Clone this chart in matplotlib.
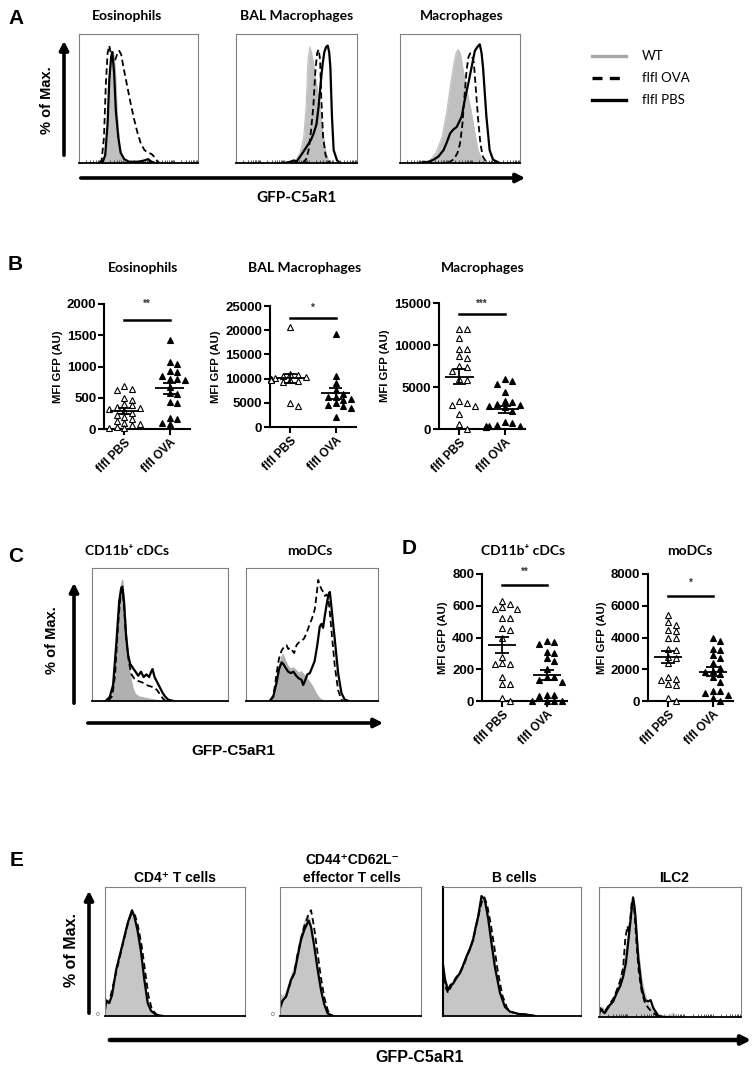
import numpy as np
import matplotlib
matplotlib.use("Agg")
import matplotlib.pyplot as plt
from matplotlib.patches import FancyArrowPatch
from matplotlib.lines import Line2D

# ---------------- histogram curves (x = channel %, y = % of max) ----------------
# panel A, eosinophils
a_eos_wt_x = [19, 22, 24, 26, 27.5, 29, 30.5, 32, 34, 36, 39, 43]
a_eos_wt_y = [0, 5, 25, 60, 82, 86, 74, 42, 15, 4, 1, 0]
a_eos_ova_x = [17, 19, 21, 22.5, 24, 25.4, 27, 28.5, 30, 32, 33.8, 35.5, 37, 40, 43, 46, 49, 52, 55, 58, 61, 64, 66, 68]
a_eos_ova_y = [0, 2, 20, 60, 85, 91, 84, 78, 79, 84, 87, 84, 76, 62, 48, 35, 24, 15, 10, 8, 7, 4, 1, 0]
a_eos_pbs_x = [18, 20, 22, 24, 25.5, 27, 28, 29.5, 31, 33, 35, 38, 42, 50, 55, 58, 61, 64]
a_eos_pbs_y = [0, 1, 6, 30, 65, 82, 86, 70, 40, 20, 8, 3, 1, 1, 2, 3, 1, 0]
# panel A, BAL macrophages
a_bal_wt_x = [45, 50, 53, 56, 58, 59.5, 61, 62.5, 64, 66, 68, 70, 72, 74, 76, 78]
a_bal_wt_y = [0, 3, 8, 20, 45, 80, 90, 85, 78, 65, 52, 38, 22, 10, 3, 0]
a_bal_ova_x = [55, 58, 60, 62, 64, 65.5, 67, 68.3, 69.5, 70.5, 72, 74, 76, 78]
a_bal_ova_y = [0, 3, 10, 25, 45, 70, 85, 88, 80, 50, 20, 6, 2, 0]
a_bal_pbs_x = [40, 45, 47.7, 50, 53, 58.7, 62, 64.2, 66.5, 68.3, 70, 71.5, 73, 74.5, 75.8, 77, 78, 79.3, 80.7, 83.5, 86.2]
a_bal_pbs_y = [0, 1, 2, 1, 5, 13, 18, 23, 30, 44, 62, 76, 86, 90, 91, 86, 74, 36, 10, 2, 0]
# panel A, macrophages
a_mac_wt_x = [20, 25, 30, 35, 39, 42, 45, 47, 48.6, 50.5, 53, 56, 59, 62, 65, 68, 72]
a_mac_wt_y = [0, 2, 8, 20, 40, 60, 78, 86, 88, 84, 70, 55, 42, 25, 10, 3, 0]
a_mac_ova_x = [40, 45, 48, 50, 52, 54, 55.5, 57, 58.5, 60, 61.5, 63, 65, 67, 69, 71, 73]
a_mac_ova_y = [0, 3, 8, 15, 30, 55, 72, 82, 85, 83, 78, 60, 35, 15, 5, 2, 0]
a_mac_pbs_x = [15, 19.8, 24, 28, 32, 36.3, 39, 41.8, 44.5, 47.3, 51.4, 54, 56.9, 59.6, 62.4, 64.5, 66.5, 68, 69.2, 72, 74.7, 77.5, 83]
a_mac_pbs_y = [0, 0.5, 1, 2.6, 5, 10, 16, 23, 26, 28, 36, 49, 61.5, 74, 87, 90, 92, 85, 74, 36, 10, 2.6, 0]

# panel C, CD11b+ cDCs
c_cdc_wt_x = [12, 15, 17, 19, 21, 22.5, 24, 26, 28, 30, 32, 35, 40, 45, 50]
c_cdc_wt_y = [0, 5, 25, 60, 85, 91, 75, 40, 20, 10, 5, 3, 2, 1, 0]
c_cdc_ova_x = [12, 15, 17, 19, 21, 22.3, 23.5, 25, 27, 29, 31, 34, 37, 40, 43, 46, 48, 50, 52, 54]
c_cdc_ova_y = [0, 4, 20, 55, 80, 84, 72, 48, 30, 20, 17, 15, 14, 12, 11, 10, 8, 5, 2, 0]
c_cdc_pbs_x = [10, 13, 15.5, 18, 20, 21.5, 22.3, 23.5, 25, 26.5, 28, 30, 32, 34, 36, 38, 40, 42, 43.5, 44.5, 46, 48, 50, 52, 54, 56, 58, 60]
c_cdc_pbs_y = [0, 3, 12, 45, 75, 85, 86, 75, 50, 35, 28, 25, 22, 19, 22, 18, 20, 18, 22, 24, 18, 14, 10, 6, 3, 1, 0.5, 0]
# panel C, moDCs
c_mo_wt_x = [19, 21, 23, 25, 27, 28.2, 30, 32, 34, 36, 38, 40, 42, 44, 46, 48.5, 51, 53, 55, 57, 60]
c_mo_wt_y = [0, 3, 12, 25, 33, 35, 30, 26, 24, 25, 23, 21, 22, 20, 17, 14, 10, 6, 3, 1, 0]
c_mo_ova_x = [18, 20.6, 22, 23.2, 25, 27, 29, 30.7, 32, 33.2, 35, 36.5, 38.3, 40, 42, 44, 45.8, 48, 49.6, 51, 52.1, 53.5,
              54.7, 56, 57.2, 58.5, 59.7, 61, 62.2, 63.2, 64.2, 65.5, 67.3, 69.8, 72.3, 74]
c_mo_ova_y = [0, 4, 12, 21, 32, 38, 41, 42, 39, 40, 38, 36, 42, 44, 45, 47, 51, 57, 61, 65, 69, 80,
              91, 87, 84, 82, 79, 80, 78, 70, 59, 45, 26, 8, 1, 0]
c_mo_pbs_x = [18, 20.6, 23.2, 25, 27, 28.2, 30, 32, 34, 36, 38, 40, 42, 43.3, 45, 46.5, 48.4, 50, 52, 54, 55.9, 57.2,
              58.4, 59.7, 61, 62.5, 63.5, 64.7, 66, 67.3, 69.8, 72.3, 74.8, 78]
c_mo_pbs_y = [0, 3, 14, 24, 29, 28, 25, 22, 21, 22, 19, 17, 16, 12, 16, 20, 21, 25, 30, 42, 56, 58,
              55, 64, 72, 80, 82, 71, 58, 46, 21, 6, 1, 0]

# panel E
e_cd4_wt_x = [0, 3, 5, 8, 12.6, 16.2, 18.6, 20.5, 23.3, 25.7, 28.1, 30.5, 32.9, 36.4, 41]
e_cd4_wt_y = [15, 10, 14, 36, 56, 72, 80, 78, 68, 52, 30, 12, 4, 1, 0]
e_cd4_ova_x = [0, 3, 8, 12.6, 16.2, 19, 21.5, 23.5, 26, 28.5, 31, 33.5, 37, 42]
e_cd4_ova_y = [10, 11, 34, 55, 71, 80, 78, 70, 56, 36, 16, 5, 1, 0]
e_cd4_pbs_x = [0, 1, 3, 5, 8, 12.6, 16.2, 19.3, 21, 23.3, 25.7, 28.1, 30.5, 32.9, 36.4, 41]
e_cd4_pbs_y = [5, 12, 10, 16, 36, 56, 72, 82, 77, 66, 50, 28, 10, 4, 1, 0]

e_eff_wt_x = [0, 2, 4.3, 7.8, 10.2, 12.5, 14.9, 17.3, 19.5, 21.5, 23.5, 26, 28.5, 31, 33.5, 37]
e_eff_wt_y = [18, 15, 18, 30, 38, 50, 62, 72, 78, 74, 62, 42, 24, 10, 3, 0]
e_eff_ova_x = [0, 2, 4.3, 7.8, 10.2, 12.5, 14.9, 17.3, 20, 22, 24, 26.5, 29, 31.5, 34, 37.5]
e_eff_ova_y = [8, 12, 15, 27, 34, 48, 60, 70, 78, 82, 70, 50, 30, 14, 4, 0]
e_eff_pbs_x = [0, 1.9, 4.3, 7.8, 10.2, 12.5, 14.9, 17.3, 20.3, 22, 24.3, 26.7, 29.1, 31.4, 33.8, 37.4]
e_eff_pbs_y = [6, 12, 15, 28, 33, 46, 59, 67, 74, 69, 54, 36, 20, 9, 2, 0]

e_b_wt_x = [0, 2, 3.6, 5.5, 7.3, 9.5, 12.1, 14.5, 17, 19.5, 21.8, 23.5, 25.5, 27.5, 29.5, 31, 33, 35.5, 38, 41, 44, 48, 52]
e_b_wt_y = [35, 28, 22, 25, 27, 30, 34, 40, 47, 54, 62, 70, 80, 88, 91, 88, 76, 58, 40, 20, 8, 3, 0]
e_b_ova_x = [0, 2, 3.6, 5.5, 7.3, 9.5, 12.1, 14.5, 17, 19.5, 21.8, 23.5, 25.5, 28, 30, 32, 34.5, 37, 39.5, 43, 46.5, 50, 55, 62, 67]
e_b_ova_y = [30, 22, 18, 22, 26, 30, 33, 38, 45, 52, 59, 67, 77, 88, 92, 86, 72, 55, 36, 16, 6, 3, 1.6, 1, 0]
e_b_pbs_x = [0, 1.5, 3.6, 5.5, 7.3, 9.5, 12.1, 14.5, 17, 19.5, 21.8, 23.5, 25.5, 27.9, 30.3, 32.8, 35.2, 37.6, 41.3, 44.9, 48.5, 54.6, 60, 66.7]
e_b_pbs_y = [40, 28, 20, 24, 25, 29, 33, 39, 46, 52, 59, 68, 77, 93, 90, 75, 56, 38, 18, 7, 3.4, 1.6, 1.2, 0]

e_ilc_wt_x = [0, 2, 4, 7.5, 10, 12.3, 15, 17, 19, 20.5, 22, 23, 24, 25.5, 27, 28.5, 30, 32, 34, 36, 38, 41, 45, 48, 50, 52.4, 54, 57]
e_ilc_wt_y = [5, 8, 5, 10, 14, 20, 30, 38, 50, 62, 75, 85, 90, 80, 60, 45, 30, 20, 12, 8, 5, 2, 1, 0.5, 1, 3, 1, 0]
e_ilc_ova_x = [0, 2, 4, 7.5, 10, 12.3, 15, 17, 18.5, 20, 21, 22, 23, 24, 25, 26.5, 28, 30, 32, 34, 37, 41, 45]
e_ilc_ova_y = [3, 6, 4, 10, 14, 20, 28, 38, 60, 70, 65, 75, 88, 91, 80, 55, 35, 20, 12, 8, 4, 1, 0]
e_ilc_pbs_x = [0, 0.5, 2, 4, 7.5, 10, 12.3, 15, 17, 19, 20.5, 22, 22.9, 24, 25, 25.7, 27.6, 30, 32.3, 34.7, 36.3, 38.2, 41.7, 45.3, 50]
e_ilc_pbs_y = [0, 7, 5, 3, 9, 12, 18, 24, 31, 42, 57, 72, 82, 92, 85, 77, 46, 23, 13, 12, 13, 7, 1, 0, 0]

# ---------------- MFI scatter data (AU) ----------------
groups = ["flfl PBS", "flfl OVA"]
eos_pbs = [690, 640, 630, 470, 500, 400, 360, 380, 340, 320, 290, 260, 230, 200, 160, 130, 100, 80, 60, 40, 20, 10]
eos_ova = [1424, 1077, 1040, 917, 933, 848, 795, 795, 784, 677, 571, 560, 437, 411, 155, 171, 91, 80]
bal_pbs = [20600, 11000, 10800, 10500, 10300, 10100, 10000, 9900, 9800, 9700, 9500, 9300, 5000, 4300]
bal_ova = [19300, 10500, 9100, 7600, 6900, 6300, 6200, 5800, 5500, 5000, 4500, 4300, 4000, 2000]
mac_pbs = [11900, 11900, 10800, 9500, 9500, 8700, 8500, 7500, 7400, 6900, 6000, 5800, 3300, 3100, 2800, 2700, 1800, 600, 0]
mac_ova = [5900, 5700, 5400, 4400, 3300, 3200, 3000, 2800, 2700, 2600, 2100, 800, 700, 500, 300, 300, 300, 200, 200]
cdc_pbs = [630, 610, 590, 580, 580, 520, 520, 460, 450, 400, 280, 240, 230, 230, 150, 110, 110, 20, 0]
cdc_ova = [380, 370, 360, 310, 300, 270, 250, 200, 150, 150, 130, 120, 40, 40, 30, 0, 0, 0, 0]
mo_pbs = [5400, 5000, 4800, 4500, 4400, 4000, 4000, 3300, 3200, 2800, 2700, 2400, 1500, 1400, 1300, 1100, 1000, 200, 0]
mo_ova = [4000, 3800, 3300, 3200, 2900, 2700, 2400, 2100, 1900, 1800, 1700, 1500, 1200, 600, 600, 500, 400, 200, 0]

W, H = 754, 1065
CAL = ["Lato", "DejaVu Sans"]
ARI = ["Liberation Sans", "DejaVu Sans"]

fig = plt.figure(figsize=(W / 100, H / 100), dpi=100)


def px_axes(x0, y0, x1, y1):
    return fig.add_axes([x0 / W, 1 - y1 / H, (x1 - x0) / W, (y1 - y0) / H])


def ftext(x, y, s, **kw):
    fig.text(x / W, 1 - y / H, s, **kw)


def farrow(x0, y0, x1, y1, lw=2.5):
    fig.add_artist(FancyArrowPatch((x0 / W, 1 - y0 / H), (x1 / W, 1 - y1 / H),
                                   transform=fig.transFigure, arrowstyle="-|>",
                                   mutation_scale=13, lw=lw, color="k"))


def hist(box, wt, ova, pbs, gray, log_ticks=False, dark_left=False):
    ax = px_axes(*box)
    ax.fill_between(wt[0], wt[1], color=gray, lw=0)
    ax.plot(wt[0], wt[1], color=gray, lw=0.8)
    ax.plot(ova[0], ova[1], color="k", lw=1.3, ls=(0, (3.5, 2)))
    ax.plot(pbs[0], pbs[1], color="k", lw=1.6)
    ax.set_xlim(0, 100)
    ax.set_ylim(0, 100)
    ax.set_yticks([])
    if log_ticks:
        dec = np.arange(0, 101, 20)
        minor = [d + 20 * np.log10(k) for d in dec[:-1] for k in range(2, 10)]
        ax.set_xticks(dec)
        ax.set_xticks(minor, minor=True)
        ax.tick_params(axis="x", which="both", direction="in", length=2, width=0.6,
                       labelbottom=False, colors="#333333")
    else:
        ax.set_xticks([])
    for s in ax.spines.values():
        s.set_color("#808080")
        s.set_linewidth(0.8)
    ax.spines["bottom"].set_color("k")
    ax.spines["bottom"].set_linewidth(1.3)
    if dark_left:
        ax.spines["left"].set_color("k")
        ax.spines["left"].set_linewidth(1.5)
    return ax


def swarm(vals, ymax, hpx, wpx, xspan=1.9, d=3.8):
    vals = np.asarray(vals, dtype=float)
    ux = wpx / xspan
    order = np.argsort(-vals, kind="stable")
    placed = []
    off = np.zeros(len(vals))
    cands = [0, 1, -1, 2, -2, 3, -3, 4, -4, 5, -5]
    for i in order:
        py = vals[i] / ymax * hpx
        for k in cands:
            px = k * d
            if all(abs(px - qx) >= 6.5 or abs(py - qy) >= 5.4 for qx, qy in placed):
                break
        placed.append((px, py))
        off[i] = px / ux
    return off


def column_scatter(box, pbs, ova, ymax, step, sig_y, star_y, stars):
    ax = px_axes(*box)
    wpx, hpx = box[2] - box[0], box[3] - box[1]
    for i, vals, face in [(0, pbs, "white"), (1, ova, "black")]:
        xs = i + swarm(vals, ymax, hpx, wpx)
        ax.plot(xs, vals, ls="none", marker="^", ms=4.8, mfc=face, mec="k", mew=0.8, clip_on=False, zorder=3)
        m = np.mean(vals)
        sem = np.std(vals, ddof=1) / np.sqrt(len(vals))
        ax.hlines(m, i - 0.32, i + 0.32, color="k", lw=1.3, zorder=4)
        ax.hlines([m - sem, m + sem], i - 0.15, i + 0.15, color="k", lw=1.3, zorder=4)
        ax.vlines(i, m - sem, m + sem, color="k", lw=1.3, zorder=4)
    ax.plot([0, 1], [sig_y, sig_y], color="k", lw=1.8, clip_on=False)
    ax.text(0.5, star_y, stars, ha="center", va="center", fontsize=7, fontweight="bold",
            color="#333333", family=ARI, clip_on=False)
    ax.set_xlim(-0.45, 1.45)
    ax.set_ylim(0, ymax)
    ax.set_yticks(np.arange(0, ymax + 1, step))
    ax.set_xticks([0, 1])
    ax.set_xticklabels(groups, rotation=45, ha="right", va="top", rotation_mode="anchor",
                       fontweight="bold", fontsize=8.5, family=ARI)
    for lab in ax.get_yticklabels():
        lab.set_fontweight("bold")
        lab.set_family(ARI)
        lab.set_fontsize(9.5)
    ax.spines["top"].set_visible(False)
    ax.spines["right"].set_visible(False)
    ax.spines["left"].set_linewidth(1.5)
    ax.spines["bottom"].set_linewidth(1.5)
    ax.tick_params(width=1.5, length=4, pad=1.5)
    ax.set_ylabel("MFI GFP (AU)", fontweight="bold", fontsize=8.2, family=ARI, labelpad=3)
    return ax


# ---------------- panel A ----------------
ftext(8, 18, "A", fontsize=15, fontweight="bold", family=ARI, va="center")
for x, t in [(127, "Eosinophils"), (297, "BAL Macrophages"), (462, "Macrophages")]:
    ftext(x, 16, t, fontsize=10, fontweight="bold", family=CAL, ha="center", va="center")
gA = "#c0c0c0"
hist((79, 34, 198, 163), (a_eos_wt_x, a_eos_wt_y), (a_eos_ova_x, a_eos_ova_y), (a_eos_pbs_x, a_eos_pbs_y), gA, True)
hist((236, 34, 357, 163), (a_bal_wt_x, a_bal_wt_y), (a_bal_ova_x, a_bal_ova_y), (a_bal_pbs_x, a_bal_pbs_y), gA, True)
hist((400, 34, 520, 163), (a_mac_wt_x, a_mac_wt_y), (a_mac_ova_x, a_mac_ova_y), (a_mac_pbs_x, a_mac_pbs_y), gA, True)
farrow(64, 158, 64, 38, lw=2.6)
farrow(78, 178, 528, 178, lw=2.6)
ftext(47, 100, "% of Max.", fontsize=10.5, fontweight="bold", family=ARI, rotation=90, ha="center", va="center")
ftext(297, 198, "GFP-C5aR1", fontsize=11, fontweight="bold", family=CAL, ha="center", va="center")

# legend
leg = [("WT", "#a6a6a6", "-"), ("flfl OVA", "k", (0, (3, 2.2))), ("flfl PBS", "k", "-")]
for j, (lab, col, ls) in enumerate(leg):
    yy = 1 - (56 + 22 * j) / H
    fig.add_artist(Line2D([592 / W, 626 / W], [yy, yy], color=col, ls=ls, lw=2.4, transform=fig.transFigure))
    ftext(642, 56 + 22 * j, lab, fontsize=9.5, family=CAL, va="center")

# ---------------- panel B ----------------
ftext(8, 264, "B", fontsize=15, fontweight="bold", family=ARI, va="center")
for x, t in [(143, "Eosinophils"), (305, "BAL Macrophages"), (483, "Macrophages")]:
    ftext(x, 268, t, fontsize=10, fontweight="bold", family=CAL, ha="center", va="center")
column_scatter((104, 304, 190, 429), eos_pbs, eos_ova, 2000, 500, 1744, 2010, "**")
column_scatter((270, 306, 356, 427), bal_pbs, bal_ova, 25000, 5000, 22600, 24600, "*")
column_scatter((439, 303, 525, 429), mac_pbs, mac_ova, 15000, 5000, 13690, 14900, "***")

# ---------------- panel C ----------------
ftext(8, 556, "C", fontsize=15, fontweight="bold", family=ARI, va="center")
ftext(127, 551, "CD11b\u207a cDCs", fontsize=10, fontweight="bold", family=CAL, ha="center", va="center")
ftext(310, 551, "moDCs", fontsize=10, fontweight="bold", family=CAL, ha="center", va="center")
gC = "#b0b0b0"
hist((92, 568, 228, 701), (c_cdc_wt_x, c_cdc_wt_y), (c_cdc_ova_x, c_cdc_ova_y), (c_cdc_pbs_x, c_cdc_pbs_y), gC)
hist((246, 568, 378, 701), (c_mo_wt_x, c_mo_wt_y), (c_mo_ova_x, c_mo_ova_y), (c_mo_pbs_x, c_mo_pbs_y), gC)
farrow(74, 706, 74, 580, lw=2.6)
farrow(85, 723, 386, 723, lw=2.6)
ftext(52, 640, "% of Max.", fontsize=10.5, fontweight="bold", family=ARI, rotation=90, ha="center", va="center")
ftext(233, 751, "GFP-C5aR1", fontsize=11, fontweight="bold", family=ARI, ha="center", va="center")

# ---------------- panel D ----------------
ftext(402, 548, "D", fontsize=15, fontweight="bold", family=ARI, va="center")
ftext(523, 551, "CD11b\u207a cDCs", fontsize=10, fontweight="bold", family=CAL, ha="center", va="center")
ftext(690, 551, "moDCs", fontsize=10, fontweight="bold", family=CAL, ha="center", va="center")
column_scatter((482, 574, 567, 701), cdc_pbs, cdc_ova, 800, 200, 730, 812, "**")
column_scatter((648, 574, 733, 701), mo_pbs, mo_ova, 8000, 2000, 6600, 7450, "*")

# ---------------- panel E ----------------
ftext(10, 861, "E", fontsize=15, fontweight="bold", family=ARI, va="center")
ftext(175, 878, "CD4\u207a T cells", fontsize=10, fontweight="bold", family=ARI, ha="center", va="center")
ftext(352, 860, "CD44\u207aCD62L\u207b", fontsize=10, fontweight="bold", family=ARI, ha="center", va="center")
ftext(352, 878, "effector T cells", fontsize=10, fontweight="bold", family=ARI, ha="center", va="center")
ftext(514, 878, "B cells", fontsize=10, fontweight="bold", family=ARI, ha="center", va="center")
ftext(674, 878, "ILC2", fontsize=10, fontweight="bold", family=ARI, ha="center", va="center")
gE = "#c6c6c6"
hist((105, 887, 245, 1016), (e_cd4_wt_x, e_cd4_wt_y), (e_cd4_ova_x, e_cd4_ova_y), (e_cd4_pbs_x, e_cd4_pbs_y), gE)
hist((280, 887, 421, 1016), (e_eff_wt_x, e_eff_wt_y), (e_eff_ova_x, e_eff_ova_y), (e_eff_pbs_x, e_eff_pbs_y), gE)
hist((443, 887, 581, 1016), (e_b_wt_x, e_b_wt_y), (e_b_ova_x, e_b_ova_y), (e_b_pbs_x, e_b_pbs_y), gE, dark_left=True)
hist((599, 887, 741, 1017), (e_ilc_wt_x, e_ilc_wt_y), (e_ilc_ova_x, e_ilc_ova_y), (e_ilc_pbs_x, e_ilc_pbs_y), gE, True)
ftext(98, 1015, "0", fontsize=4.5, color="#555555", ha="center", va="center")
ftext(273, 1015, "0", fontsize=4.5, color="#555555", ha="center", va="center")
farrow(89, 1016, 89, 888, lw=2.6)
farrow(107, 1040, 754, 1040, lw=3.2)
ftext(72, 950, "% of Max.", fontsize=11.5, fontweight="bold", family=ARI, rotation=90, ha="center", va="center")
ftext(420, 1057, "GFP-C5aR1", fontsize=11.5, fontweight="bold", family=ARI, ha="center", va="center")

fig.savefig("out.png", dpi=100, facecolor="white")
